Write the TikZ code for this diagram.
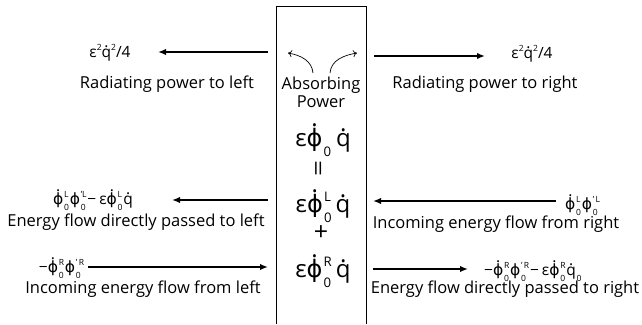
\documentclass[tikz,border=0pt]{standalone}
\usepackage{fontspec}
\setmainfont{Open Sans}
\newfontfamily\gk{DejaVu Sans}
\usepackage{graphicx}
\usetikzlibrary{arrows.meta}
\newcommand\dt[2][0.6em]{\ooalign{#2\cr\hidewidth\raisebox{#1}{.}\hidewidth\cr}}
\newcommand\su[3]{#1\setbox0\hbox{\scalebox{.55}{#2}}\setbox2\hbox{\scalebox{.55}{#3}}%
  \dimen0=\ifdim\wd0>\wd2 \wd0\else\wd2\fi
  \kern.05em\rlap{\raisebox{.42em}{\box0}}\rlap{\raisebox{-.42em}{\box2}}\kern\dimen0\kern.05em}
\newcommand\up[1]{\raisebox{.42em}{\scalebox{.55}{#1}}}
\newcommand\ph{\dt[.8em]{{\gk ϕ}}}
\newcommand\pp{{\gk ϕ}}
\begin{document}
\begin{tikzpicture}[x=1pt,y=-1pt,
  lab/.style={inner sep=0pt,font=\fontsize{16.5}{18}\selectfont},
  fm/.style={inner sep=0pt,anchor=base,font=\fontsize{15.5}{17}\selectfont},
  bigf/.style={inner sep=0pt,anchor=base,font=\fontsize{24}{28}\selectfont},
  big/.style={line width=2.6pt,-{Latex[length=8pt,width=6.5pt]}},
  crv/.style={line width=0.7pt,-{To[length=4pt,width=7pt]}}]
\useasboundingbox (0,0) rectangle (642,324);
% box
\draw[line width=0.8pt] (276,324) -- (276,6) -- (366,6) -- (366,324);
% curved arrows
\coordinate (cl0) at (313,73); \coordinate (cl1) at (288,53);
\coordinate (cr0) at (330,73); \coordinate (cr1) at (357,53);
\draw[crv] (cl0) to[out=95,in=-10] (cl1);
\draw[crv] (cr0) to[out=85,in=190] (cr1);
\node[lab,align=center] (abs) at (321,92) {Absorbing\\Power};
% box formulas
\node[bigf] (r1) at (323,146) {ε\su{\ph}{}{0}\kern.15em\dt{q}};
\node[inner sep=0pt,font=\fontsize{28}{30}\selectfont] (eq) at (321,168) {\scalebox{.8}[1]{\rotatebox{90}{=}}};
\node[bigf] (r2) at (323,212) {ε\su{\ph}{L}{0}\kern.12em\dt{q}};
\node[inner sep=0pt,font=\fontsize{25}{28}\selectfont] (pl) at (321,233) {+};
\node[bigf] (r3) at (323,277) {ε\su{\ph}{R}{0}\kern.12em\dt{q}};
% top left
\node[fm] (el) at (110,57) {ε\up{2}\dt{q}\up{2}/4};
\coordinate (al0) at (268,52); \coordinate (al1) at (158,52);
\draw[big] (al0) -- (al1);
\node[lab] (rl) at (167,84) {Radiating power to left};
% top right
\node[fm] (er) at (532,58) {ε\up{2}\dt{q}\up{2}/4};
\coordinate (ar0) at (374,56); \coordinate (ar1) at (485,56);
\draw[big] (ar0) -- (ar1);
\node[lab] (rr) at (485,84) {Radiating power to right};
% middle left
\node[fm] (ml) at (93,204) {\su{\ph}{L}{0}\su{\pp}{'L}{0}−\kern.2em ε\su{\ph}{L}{0}\dt{q}};
\coordinate (bl0) at (268,200); \coordinate (bl1) at (172,200);
\draw[big] (bl0) -- (bl1);
\node[lab] (eml) at (136,222) {Energy flow directly passed to left};
% middle right
\node[fm,anchor=base west] (mr) at (565,209) {\su{\ph}{L}{0}\su{\pp}{'\,L}{0}};
\coordinate (br0) at (556,201); \coordinate (br1) at (373,201);
\draw[big] (br0) -- (br1);
\node[lab] (emr) at (496,224) {Incoming energy flow from right};
% bottom left
\node[fm,anchor=base east] (bl) at (85,272) {−\su{\ph}{R}{0}\su{\pp}{'\,R}{0}};
\coordinate (cb0) at (88,267); \coordinate (cb1) at (268,267);
\draw[big] (cb0) -- (cb1);
\node[lab] (ebl) at (143,289) {Incoming energy flow from left};
% bottom right
\node[fm,anchor=base west] (brr) at (484,275) {−\su{\ph}{R}{0}\su{\pp}{'\,R}{0}−\kern.2em ε\su{\ph}{R}{0}\su{\dt{q}}{}{0}};
\coordinate (db0) at (373,269); \coordinate (db1) at (468,269);
\draw[big] (db0) -- (db1);
\node[lab] (ebr) at (505,289) {Energy flow directly passed to right};
\end{tikzpicture}
\end{document}
